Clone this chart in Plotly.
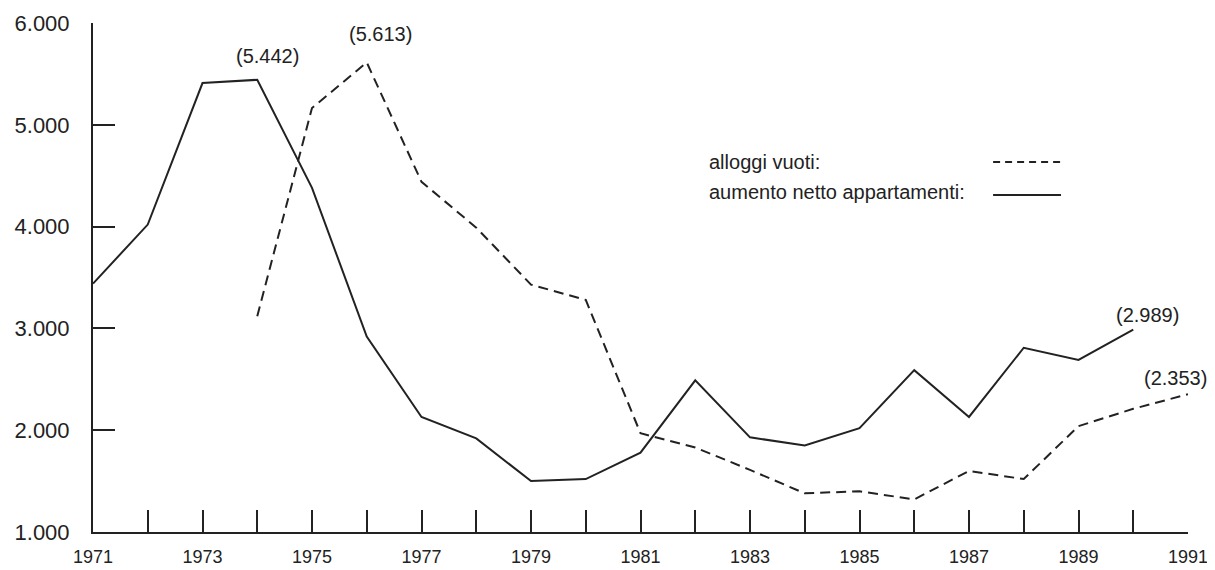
import plotly.graph_objects as go

years = list(range(1971, 1992))
# aumento netto appartamenti (solid), 1971-1990
solid_years = list(range(1971, 1991))
solid_vals = [3440, 4020, 5410, 5442, 4380, 2920, 2130, 1920, 1500, 1520,
              1780, 2490, 1930, 1850, 2020, 2590, 2130, 2810, 2690, 2989]
# alloggi vuoti (dashed), 1974-1991
dash_years = list(range(1974, 1992))
dash_vals = [3120, 5165, 5613, 4440, 3990, 3430, 3280, 1970, 1830, 1610,
             1380, 1400, 1320, 1600, 1520, 2040, 2210, 2353]

y_ticks = [1000, 2000, 3000, 4000, 5000, 6000]
y_ticktext = ["1.000", "2.000", "3.000", "4.000", "5.000", "6.000"]
x_labels = list(range(1971, 1992, 2))

legend_labels = ["alloggi vuoti:", "aumento netto appartamenti:"]

INK = "#222222"
FONT = "Liberation Sans, Arial, Helvetica, sans-serif"

def fmt(v):
    return "(" + f"{v:,}".replace(",", ".") + ")"

fig = go.Figure()
fig.add_trace(go.Scatter(x=solid_years, y=solid_vals, mode="lines",
                         line=dict(color=INK, width=2), showlegend=False))
fig.add_trace(go.Scatter(x=dash_years, y=dash_vals, mode="lines",
                         line=dict(color=INK, width=2, dash="10px,6px"), showlegend=False))

annotations = []
# value labels at peaks / ends
for xs, vs, idx, yshift, xshift in [
    (solid_years, solid_vals, solid_years.index(1974), 24, 10),
    (dash_years, dash_vals, dash_years.index(1976), 28, 14),
    (solid_years, solid_vals, len(solid_vals) - 1, 15, 14),
    (dash_years, dash_vals, len(dash_vals) - 1, 16, -13),
]:
    annotations.append(dict(x=xs[idx], y=vs[idx], xref="x", yref="y",
                            text=fmt(vs[idx]), showarrow=False,
                            yshift=yshift, xshift=xshift,
                            font=dict(size=20, color=INK, family=FONT)))

# legend text (custom legend: label then line sample)
annotations.append(dict(x=0.5607, y=0.727, xref="paper", yref="paper", text=legend_labels[0],
                        showarrow=False, xanchor="left", yanchor="middle",
                        font=dict(size=20, color=INK, family=FONT)))
annotations.append(dict(x=0.5607, y=0.668, xref="paper", yref="paper", text=legend_labels[1],
                        showarrow=False, xanchor="left", yanchor="middle",
                        font=dict(size=20, color=INK, family=FONT)))

shapes = [
    dict(type="line", xref="paper", yref="paper", x0=0.822, x1=0.884, y0=0.727, y1=0.727,
         line=dict(color=INK, width=2, dash="7px,5px")),
    dict(type="line", xref="paper", yref="paper", x0=0.822, x1=0.884, y0=0.662, y1=0.662,
         line=dict(color=INK, width=2)),
]

# page body has an 8px margin: compensate so the plot sits where the reference has it
fig.update_layout(
    width=1207, height=562,
    margin=dict(l=85, r=27, t=15, b=38, autoexpand=False),
    paper_bgcolor="white", plot_bgcolor="white",
    annotations=annotations, shapes=shapes,
    font=dict(family=FONT, color=INK),
)
fig.update_xaxes(range=[1971, 1991], showgrid=False, zeroline=False, automargin=False,
                 showline=True, linecolor=INK, linewidth=2,
                 tickmode="array", tickvals=years,
                 ticktext=[str(y) if y in x_labels else "" for y in years],
                 ticks="inside", ticklen=22, tickwidth=2, tickcolor=INK,
                 ticklabelstandoff=7,
                 tickfont=dict(size=18, color=INK, family=FONT))
fig.update_yaxes(range=[1000, 6000], showgrid=False, zeroline=False, automargin=False,
                 showline=True, linecolor=INK, linewidth=2,
                 tickmode="array", tickvals=y_ticks, ticktext=y_ticktext,
                 ticks="inside", ticklen=22, tickwidth=2, tickcolor=INK,
                 ticklabelstandoff=17,
                 tickfont=dict(size=22, color=INK, family=FONT))

fig.write_html("out.html")
